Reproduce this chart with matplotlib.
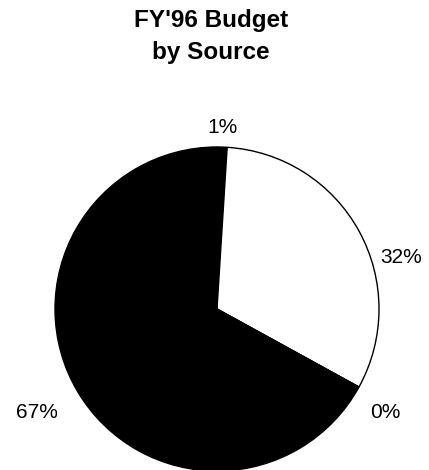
import matplotlib.pyplot as plt
import numpy as np

plt.rcParams['font.family'] = ['Liberation Sans', 'DejaVu Sans']

title = "FY'96 Budget\nby Source"
shares = [1, 32, 0, 67]
labels = ['1%', '32%', '0%', '67%']
colors = ['black', 'white', 'white', 'black']

# label placement (angle in degrees, distance in radii)
label_angles = [88.4, 15.5, -31.5, -150.2]
label_dist = [1.12, 1.18, 1.22, 1.28]

W, H = 429, 470
fig = plt.figure(figsize=(W / 100, H / 100), dpi=100)
ax = fig.add_axes([0, 0, 1, 1])

cx, cy, r = 217, H - 309, 162
ax.pie(shares, colors=colors, startangle=90, counterclock=False,
       center=(cx, cy), radius=r, frame=True,
       wedgeprops=dict(edgecolor='black', linewidth=1.0))
ax.set_xlim(0, W)
ax.set_ylim(0, H)
ax.set_aspect('equal')
ax.axis('off')

for lab, a, d in zip(labels, label_angles, label_dist):
    t = np.deg2rad(a)
    ax.text(cx + d * r * np.cos(t), cy + d * r * np.sin(t), lab,
            ha='center', va='center', fontsize=15)

fig.text(211 / W, 1 - 37 / H, title, ha='center', va='center',
         fontsize=17.5, fontweight='bold', linespacing=1.5)

fig.savefig('out.png', dpi=100)
